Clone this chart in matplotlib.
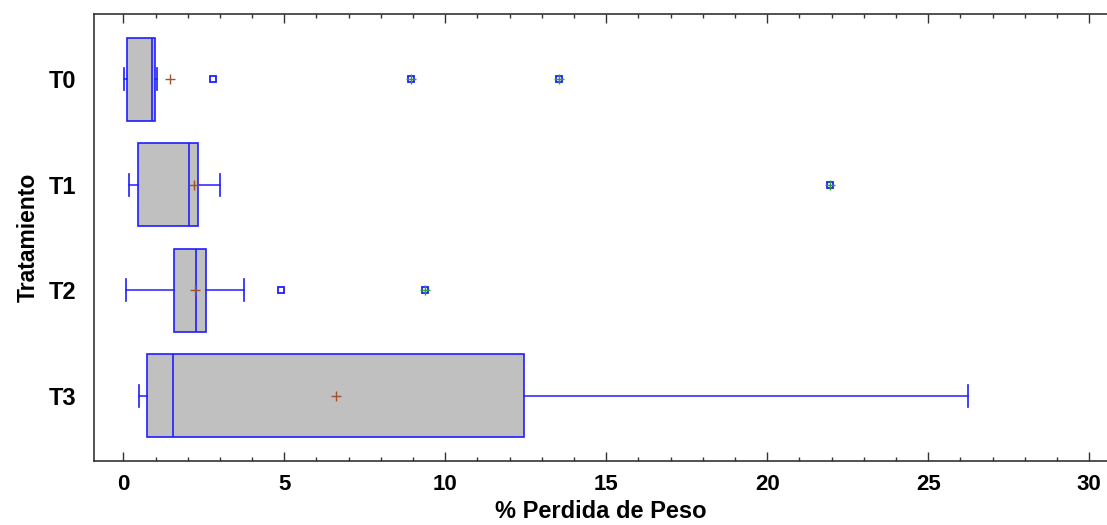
import matplotlib

matplotlib.use("Agg")

import matplotlib.pyplot as plt
from matplotlib.ticker import MultipleLocator

plt.rcParams["font.family"] = ["Liberation Sans", "DejaVu Sans"]

# Data
categories = ["T0", "T1", "T2", "T3"]
whisker_lo = [0.01, 0.17, 0.08, 0.50]
q1 = [0.12, 0.46, 1.56, 0.73]
medians = [0.89, 2.04, 2.27, 1.53]
q3 = [0.97, 2.32, 2.56, 12.45]
whisker_hi = [1.04, 2.99, 3.75, 26.24]
means = [1.46, 2.19, 2.23, 6.62]
outliers = [[2.78], [], [4.89], []]
far_outliers = [[8.95, 13.53], [21.94], [9.38], []]

BLUE = "#1f1fff"
INK = "#333333"

stats = []
for i, name in enumerate(categories):
    stats.append({
        "label": name,
        "whislo": whisker_lo[i],
        "q1": q1[i],
        "med": medians[i],
        "q3": q3[i],
        "whishi": whisker_hi[i],
        "mean": means[i],
        "fliers": outliers[i] + far_outliers[i],
    })

fig = plt.figure(figsize=(11.07, 5.25), dpi=100)
ax = fig.add_axes([94 / 1107, 1 - 461 / 525, (1107 - 94) / 1107, (461 - 14) / 525])

positions = list(range(len(categories)))
ax.bxp(
    stats,
    positions=positions,
    widths=0.785,
    capwidths=0.21,
    orientation="horizontal",
    patch_artist=True,
    showmeans=True,
    boxprops=dict(facecolor="#c0c0c0", edgecolor=BLUE, linewidth=1.2),
    medianprops=dict(color=BLUE, linewidth=1.2),
    whiskerprops=dict(color=BLUE, linewidth=1.1),
    capprops=dict(color=BLUE, linewidth=1.2),
    flierprops=dict(marker="s", markersize=5, markerfacecolor="white",
                    markeredgecolor=BLUE, markeredgewidth=1.3),
    meanprops=dict(marker="+", markersize=6.5, markeredgecolor="#a0522d",
                   markeredgewidth=1.0),
)

# far outliers get a green cross over the square
for pos, vals in zip(positions, far_outliers):
    if vals:
        ax.plot(vals, [pos] * len(vals), linestyle="none", marker="+",
                markersize=7, markeredgecolor="#2e9e2e", markeredgewidth=1.0,
                zorder=5)

ax.set_xlim(-0.91, 30.55)
ax.set_ylim(3.62, -0.62)
ax.set_yticks(positions)
ax.set_yticklabels(categories)

ax.xaxis.set_major_locator(MultipleLocator(5))
ax.xaxis.set_minor_locator(MultipleLocator(1))
ax.tick_params(axis="x", which="major", direction="in", length=6.5, width=1.0,
               color=INK, top=True, bottom=True, labelsize=16, pad=9)
ax.tick_params(axis="x", which="minor", direction="in", length=3, width=1.0,
               color=INK, top=True, bottom=True)
ax.tick_params(axis="y", length=0, labelsize=17, pad=13)
for lab in ax.get_xticklabels() + ax.get_yticklabels():
    lab.set_fontweight("bold")

for side in ["left", "bottom", "top"]:
    ax.spines[side].set_color(INK)
    ax.spines[side].set_linewidth(1.2)
ax.spines["right"].set_visible(False)

ax.set_xlabel("% Perdida de Peso", fontsize=17, fontweight="bold", labelpad=4)
ax.set_ylabel("Tratamiento", fontsize=16.5, fontweight="bold", labelpad=6)

fig.savefig("out.png", dpi=100, facecolor="white")
